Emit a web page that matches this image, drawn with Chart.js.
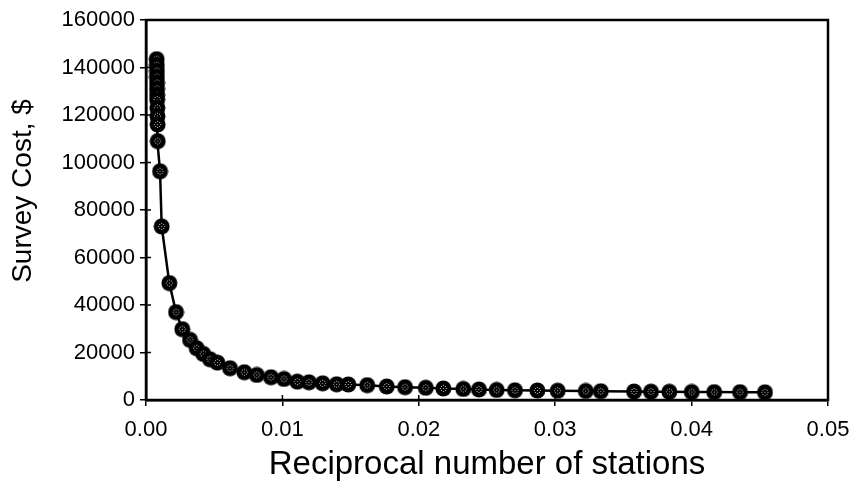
<!DOCTYPE html>
<html><head><meta charset="utf-8">
<script src="https://cdn.jsdelivr.net/npm/chart.js@4"></script>
<style>html,body{margin:0;padding:0;background:#fff;} #wrap{width:853px;height:481px;}</style>
</head><body><div id="wrap"><canvas id="c" width="853" height="481"></canvas></div>
<script>
const xValues = [0.00078,0.00079,0.00080,0.00080,0.00081,0.00081,0.00082,0.00082,0.00083,0.00084,0.00085,0.00086,0.00103,0.00115,0.00171,0.00220,0.00266,0.00323,0.00372,0.00420,0.00469,0.00523,0.00616,0.00721,0.00812,0.00916,0.01012,0.01109,0.01195,0.01295,0.01398,0.01483,0.01622,0.01765,0.01899,0.02051,0.02180,0.02326,0.02441,0.02571,0.02705,0.02869,0.03018,0.03224,0.03334,0.03578,0.03702,0.03837,0.04001,0.04166,0.04355,0.04538];
const costValues = [143500,141000,138500,136000,133500,131000,128500,126500,123000,119500,116000,109000,96300,73100,49240,37000,29830,25320,21810,19410,17170,15740,13380,11690,10550,9580,8860,7720,7470,7050,6620,6540,6240,5700,5400,5150,4850,4640,4430,4220,4090,4010,3920,3800,3710,3590,3500,3460,3380,3330,3290,3250];
const xTicks = [0,0.01,0.02,0.03,0.04,0.05];
const xTickLabels = ['0.00','0.01','0.02','0.03','0.04','0.05'];
const yTicks = [0,20000,40000,60000,80000,100000,120000,140000,160000];
const yTickLabels = ['0','20000','40000','60000','80000','100000','120000','140000','160000'];
const xTitle = 'Reciprocal number of stations';
const yTitle = 'Survey Cost, $';

function makeMarker(){
  const c = document.createElement('canvas'); c.width = 17; c.height = 17;
  const g = c.getContext('2d');
  g.fillStyle = '#000'; g.beginPath(); g.arc(8.5,8.5,8,0,Math.PI*2); g.fill();
  g.fillStyle = '#bdbdbd';
  [[0,0],[0,-3],[0,3],[-3,0],[3,0],[-2,-2],[2,-2],[-2,2],[2,2]].forEach(([dx,dy])=>g.fillRect(8+dx,8+dy,1,1));
  return c;
}
const marker = makeMarker();

const framePlugin = {
  id: 'frame',
  beforeDatasetsDraw(chart){
    const {ctx, chartArea:a, scales:{x,y}} = chart;
    ctx.save();
    ctx.strokeStyle = '#000'; ctx.lineWidth = 2.5;
    ctx.strokeRect(a.left, a.top, a.right-a.left, a.bottom-a.top);
    ctx.lineWidth = 1.5; ctx.beginPath();
    xTicks.forEach(v=>{const px=x.getPixelForValue(v); ctx.moveTo(px,a.bottom); ctx.lineTo(px,a.bottom-5);});
    yTicks.forEach(v=>{const py=y.getPixelForValue(v); ctx.moveTo(a.left,py); ctx.lineTo(a.left+5,py);});
    ctx.stroke();
    ctx.restore();
  },
  afterDraw(chart){
    const {ctx, chartArea:a} = chart;
    ctx.save();
    ctx.font = '28px "Liberation Sans"'; ctx.fillStyle = '#000';
    ctx.textAlign = 'center'; ctx.textBaseline = 'middle';
    ctx.translate(23, (a.top + a.bottom)/2 - 19); ctx.rotate(-Math.PI/2);
    ctx.fillText(yTitle, 0, 0);
    ctx.restore();
  }
};

const tickFont = {family:'Liberation Sans', size:22};
new Chart(document.getElementById('c'), {
  type: 'line',
  data: {
    datasets: [{
      data: xValues.map((v,i)=>({x:v, y:costValues[i]})),
      borderColor: '#000', borderWidth: 2.5, tension: 0,
      pointStyle: marker, pointRadius: 8, pointHoverRadius: 8,
      fill: false, clip: false
    }]
  },
  options: {
    responsive: false, animation: false, devicePixelRatio: 1,
    layout: {padding: {top: 20, right: 25, left: 0, bottom: 0}},
    plugins: {legend: {display: false}, tooltip: {enabled: false}},
    scales: {
      x: {
        type: 'linear', min: 0, max: 0.05,
        afterBuildTicks: s => { s.ticks = xTicks.map(v=>({value:v})); },
        afterFit: s => { s.height = 81; s.paddingRight = 0; s.paddingLeft = 0; },
        ticks: {callback: (v,i)=>xTickLabels[i], color:'#000', font: tickFont, padding: 11, maxRotation: 0, autoSkip: false},
        grid: {display: true, drawOnChartArea: false, drawTicks: true, tickLength: 6, color: '#000', lineWidth: 1.5},
        border: {display: true, color: '#000', width: 2.5},
        title: {display: true, text: xTitle, color: '#000', font: {family:'Liberation Sans', size: 33, lineHeight: 1}, padding: {top: 0, bottom: 0}}
      },
      y: {
        type: 'linear', min: 0, max: 160000,
        afterBuildTicks: s => { s.ticks = yTicks.map(v=>({value:v})); },
        afterFit: s => { s.width = 146; s.paddingTop = 0; s.paddingBottom = 0; },
        ticks: {callback: (v,i)=>yTickLabels[i], color:'#000', font: tickFont, padding: 5, autoSkip: false},
        grid: {display: true, drawOnChartArea: false, drawTicks: true, tickLength: 6, color: '#000', lineWidth: 1.5},
        border: {display: true, color: '#000', width: 2.5}
      }
    }
  },
  plugins: [framePlugin]
});
</script>
</body></html>
